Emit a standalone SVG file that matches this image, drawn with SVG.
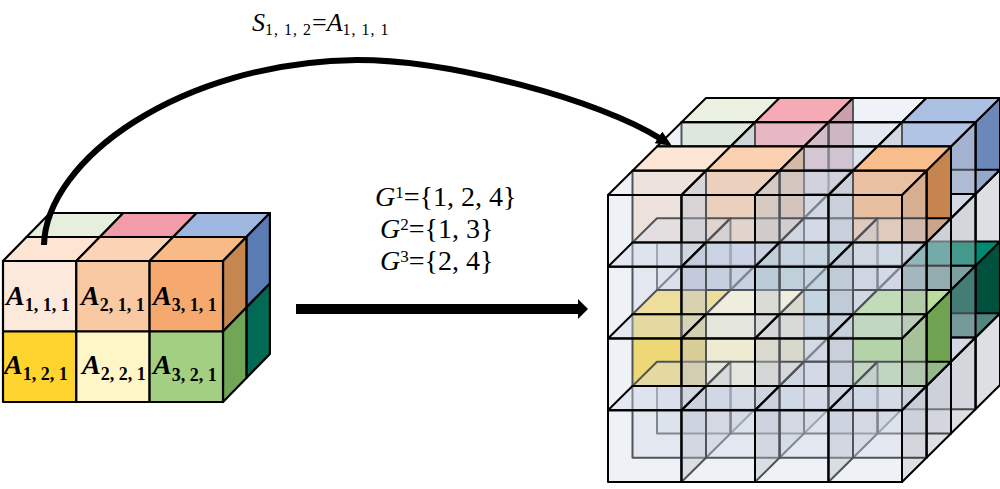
<svg xmlns="http://www.w3.org/2000/svg" xmlns:xlink="http://www.w3.org/1999/xlink" width="1000" height="489" viewBox="0 0 1000 489">
<style>
.lab{font-family:"Liberation Serif","Times New Roman",serif;fill:#000}
.ai{font-weight:bold;font-style:italic;font-size:28px}
.as{font-weight:bold;font-style:normal;font-size:18px}
.lc polygon,.lc rect{stroke:#000;stroke-width:2.2;stroke-linejoin:round}
.tf{fill:#d3dbe8;fill-opacity:.38}
.tt{fill:#d6deeb;fill-opacity:.38}
.tr{fill:#a9b0ba;fill-opacity:.4}
.con{fill:none;stroke:#000}
</style>
<defs>
<polygon id="F" points="0,0 73.5,0 73.5,71.75 0,71.75" stroke="#000" stroke-width="2" stroke-linejoin="round"/>
<polygon id="T" points="0,0 24.5,-24.25 98,-24.25 73.5,0" stroke="#000" stroke-width="2" stroke-linejoin="round"/>
<polygon id="R" points="73.5,0 98,-24.25 98,47.5 73.5,71.75" stroke="#000" stroke-width="2" stroke-linejoin="round"/>
<g id="tc"><use href="#R" class="tr"/><use href="#T" class="tt"/><use href="#F" class="tf"/></g>
<marker id="hd" viewBox="0 0 10 20" refX="1" refY="10" markerWidth="10" markerHeight="20" markerUnits="userSpaceOnUse" orient="auto"><path d="M0,0 L10,10 L0,20 Z" fill="#000"/></marker>
<marker id="hs" viewBox="0 0 16 14" refX="3" refY="7" markerWidth="16" markerHeight="14" markerUnits="userSpaceOnUse" orient="auto"><path d="M0,0 L16,7 L0,14 Z" fill="#000"/></marker>
</defs>

<g id="tensor-A" class="lc">
<polygon points="26.5,237 50,213 123.3,213 99.8,237" fill="#e6efdb"/>
<polygon points="99.8,237 123.3,213 196.6,213 173.1,237" fill="#f29ba9"/>
<polygon points="173.1,237 196.6,213 269.9,213 246.4,237" fill="#9fb7e0"/>
<polygon points="246.4,237 269.9,213 269.9,283.5 246.4,307.5" fill="#5b7bb5"/>
<polygon points="246.4,307.5 269.9,283.5 269.9,354 246.4,378" fill="#006a55"/>
<polygon points="3,261 26.5,237 99.8,237 76.3,261" fill="#fde4d3"/>
<polygon points="76.3,261 99.8,237 173.1,237 149.6,261" fill="#fcd3b4"/>
<polygon points="149.6,261 173.1,237 246.4,237 223,261" fill="#f8bb88"/>
<polygon points="223,261 246.4,237 246.4,307.5 223,331.5" fill="#c5864f"/>
<polygon points="223,331.5 246.4,307.5 246.4,378 223,402" fill="#72a657"/>
<rect x="3" y="261" width="73.3" height="70.5" fill="#fde9dc"/>
<rect x="76.3" y="261" width="73.3" height="70.5" fill="#f9c9a4"/>
<rect x="149.6" y="261" width="73.4" height="70.5" fill="#f5a96f"/>
<rect x="3" y="331.5" width="73.3" height="70.5" fill="#ffd42f"/>
<rect x="76.3" y="331.5" width="73.3" height="70.5" fill="#fff6c8"/>
<rect x="149.6" y="331.5" width="73.4" height="70.5" fill="#a3cf82"/>
</g>
<g id="labels-A">
<text class="lab ai" x="6" y="305">A<tspan class="as" dy="6">1, 1, 1</tspan></text>
<text class="lab ai" x="81" y="305">A<tspan class="as" dy="6">2, 1, 1</tspan></text>
<text class="lab ai" x="153" y="305">A<tspan class="as" dy="6">3, 1, 1</tspan></text>
<text class="lab ai" x="4" y="374">A<tspan class="as" dy="6">1, 2, 1</tspan></text>
<text class="lab ai" x="82" y="374">A<tspan class="as" dy="6">2, 2, 1</tspan></text>
<text class="lab ai" x="153" y="374">A<tspan class="as" dy="7">3, 2, 1</tspan></text>
</g>

<g id="tensor-S">
<!-- depth 4 (back) -->
<g transform="translate(681.5,122.25)"><use href="#R" fill="#c3d2ac"/><use href="#T" fill="#ebf1e0"/><use href="#F" fill="#e3edd6"/></g>
<g transform="translate(755,122.25)"><use href="#R" fill="#c57a86"/><use href="#T" fill="#f5aab5"/><use href="#F" fill="#f3a0ad"/></g>
<use href="#tc" x="828.5" y="122.25"/>
<g transform="translate(902,122.25)"><use href="#R" fill="#6c88ba"/><use href="#T" fill="#abbfe2"/><use href="#F" fill="#9db5df"/></g>
<use href="#tc" x="681.5" y="194"/><use href="#tc" x="755" y="194"/><use href="#tc" x="828.5" y="194"/><use href="#tc" x="902" y="194"/>
<g transform="translate(681.5,265.75)"><use href="#R" fill="#6a80b8"/><use href="#T" fill="#9db0e0"/><use href="#F" fill="#8ea4dc"/></g>
<g transform="translate(755,265.75)"><use href="#R" fill="#2f8a82"/><use href="#T" fill="#66c0b8"/><use href="#F" fill="#4db3aa"/></g>
<use href="#tc" x="828.5" y="265.75"/>
<g transform="translate(902,265.75)"><use href="#R" fill="#00503e"/><use href="#T" fill="#008a70"/><use href="#F" fill="#005c48"/></g>
<use href="#tc" x="681.5" y="337.5"/><use href="#tc" x="755" y="337.5"/><use href="#tc" x="828.5" y="337.5"/><use href="#tc" x="902" y="337.5"/>
<!-- depth 3 -->
<use href="#tc" x="657" y="146.5"/><use href="#tc" x="730.5" y="146.5"/><use href="#tc" x="804" y="146.5"/><use href="#tc" x="877.5" y="146.5"/>
<use href="#tc" x="657" y="218.25"/><use href="#tc" x="730.5" y="218.25"/><use href="#tc" x="804" y="218.25"/><use href="#tc" x="877.5" y="218.25"/>
<use href="#tc" x="657" y="290"/><use href="#tc" x="730.5" y="290"/><use href="#tc" x="804" y="290"/><use href="#tc" x="877.5" y="290"/>
<use href="#tc" x="657" y="361.75"/><use href="#tc" x="730.5" y="361.75"/><use href="#tc" x="804" y="361.75"/><use href="#tc" x="877.5" y="361.75"/>
<!-- depth 2 -->
<g transform="translate(632.5,170.75)"><use href="#R" fill="#e6c4ac"/><use href="#T" fill="#fde6d6"/><use href="#F" fill="#fde6d6"/></g>
<g transform="translate(706,170.75)"><use href="#R" fill="#d6a27c"/><use href="#T" fill="#fbd1b2"/><use href="#F" fill="#f9c8a2"/></g>
<use href="#tc" x="779.5" y="170.75"/>
<g transform="translate(853,170.75)"><use href="#R" fill="#c6844f"/><use href="#T" fill="#f9bd8b"/><use href="#F" fill="#f6ae74"/></g>
<use href="#tc" x="632.5" y="242.5"/><use href="#tc" x="706" y="242.5"/><use href="#tc" x="779.5" y="242.5"/><use href="#tc" x="853" y="242.5"/>
<g transform="translate(632.5,314.25)"><use href="#R" fill="#d0aa20"/><use href="#T" fill="#ffe070"/><use href="#F" fill="#ffd530"/></g>
<g transform="translate(706,314.25)"><use href="#R" fill="#e0d6a0"/><use href="#T" fill="#fff8d8"/><use href="#F" fill="#fff5c6"/></g>
<use href="#tc" x="779.5" y="314.25"/>
<g transform="translate(853,314.25)"><use href="#R" fill="#6fa352"/><use href="#T" fill="#b8dd9c"/><use href="#F" fill="#a3cf82"/></g>
<use href="#tc" x="632.5" y="386"/><use href="#tc" x="706" y="386"/><use href="#tc" x="779.5" y="386"/><use href="#tc" x="853" y="386"/>
<!-- depth 1 (front) -->
<use href="#tc" x="608" y="195"/><use href="#tc" x="681.5" y="195"/><use href="#tc" x="755" y="195"/><use href="#tc" x="828.5" y="195"/>
<use href="#tc" x="608" y="266.75"/><use href="#tc" x="681.5" y="266.75"/><use href="#tc" x="755" y="266.75"/><use href="#tc" x="828.5" y="266.75"/>
<use href="#tc" x="608" y="338.5"/><use href="#tc" x="681.5" y="338.5"/><use href="#tc" x="755" y="338.5"/><use href="#tc" x="828.5" y="338.5"/>
<use href="#tc" x="608" y="410.25"/><use href="#tc" x="681.5" y="410.25"/><use href="#tc" x="755" y="410.25"/><use href="#tc" x="828.5" y="410.25"/>
</g>

<g id="label-S">
<text class="lab" font-size="26" x="252" y="31"><tspan font-style="italic">S</tspan><tspan font-size="16" dy="4" letter-spacing="1">1, 1, 2</tspan><tspan dy="-4">=</tspan><tspan font-style="italic">A</tspan><tspan font-size="16" dy="4" letter-spacing="1">1, 1, 1</tspan></text>
</g>
<g id="label-G">
<text class="lab" font-size="28" x="375" y="206"><tspan font-style="italic">G</tspan><tspan font-size="17" dy="-8">1</tspan><tspan dy="8">={1, 2, 4}</tspan></text>
<text class="lab" font-size="28" x="380" y="238"><tspan font-style="italic">G</tspan><tspan font-size="17" dy="-8">2</tspan><tspan dy="8">={1, 3}</tspan></text>
<text class="lab" font-size="28" x="380" y="270"><tspan font-style="italic">G</tspan><tspan font-size="17" dy="-8">3</tspan><tspan dy="8">={2, 4}</tspan></text>
</g>

<g id="connectors">
<path class="con" d="M44,245 C46,160 180,62 357,60 C450,60 600,100 661,139" stroke-width="6" marker-end="url(#hs)"/>
<path class="con" d="M296,309 H579" stroke-width="10" marker-end="url(#hd)"/>
</g>
</svg>
